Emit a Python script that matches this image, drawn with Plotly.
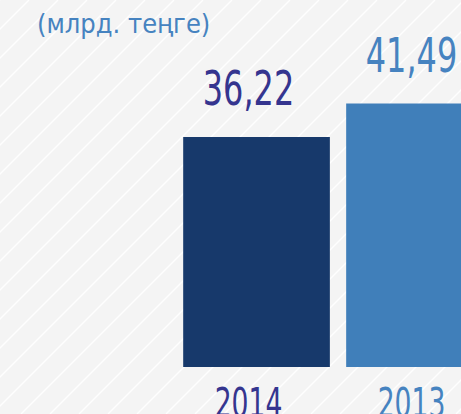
import plotly.graph_objects as go

years = ["2014", "2013"]
values = [36.22, 41.49]
bar_colors = ["#17396b", "#407fba"]
text_colors = ["#35358f", "#4683c0"]
title_text = "(млрд. теңге)"

W, H = 461, 414
B = 47
PH = H - B
FONT = "DejaVu Sans Condensed, Liberation Sans Narrow, Roboto, sans-serif"

fig = go.Figure()
fig.add_trace(go.Bar(
    x=years, y=values, marker=dict(color=bar_colors, line=dict(width=0)),
    width=0.9, hoverinfo="skip",
))
# value labels above bars
fig.add_trace(go.Scatter(
    x=years, y=values, mode="markers+text",
    marker=dict(size=30, opacity=0),
    text=[f"{v:.2f}".replace(".", ",") for v in values],
    textposition="top center",
    textfont=dict(family=FONT, size=48, color=text_colors),
    cliponaxis=False, hoverinfo="skip",
))
# category labels under bars
fig.add_trace(go.Scatter(
    x=years, y=[0] * len(years), mode="markers+text",
    marker=dict(size=30, opacity=0),
    text=years,
    textposition="bottom center",
    textfont=dict(family=FONT, size=40, color=text_colors),
    cliponaxis=False, hoverinfo="skip",
))

# diagonal background stripes (decoration)
shapes = []
step = 29
c = -H
while c < W + H:
    x0, y0 = c, H
    x1, y1 = c + H, 0
    shapes.append(dict(
        type="line", xref="paper", yref="paper", layer="below",
        x0=x0 / W, y0=(PH - y0) / PH, x1=x1 / W, y1=(PH - y1) / PH,
        line=dict(color="rgba(255,255,255,0.85)", width=1.5),
    ))
    c += step

fig.update_layout(
    width=W, height=H,
    margin=dict(l=0, r=0, t=0, b=B),
    paper_bgcolor="#f4f4f4", plot_bgcolor="rgba(0,0,0,0)",
    shapes=shapes,
    showlegend=False,
    title=dict(
        text=title_text, x=37 / W, xanchor="left", xref="container",
        y=1 - 14 / H, yanchor="top", yref="container",
        font=dict(family=FONT, size=27, color="#4683c0"),
    ),
    xaxis=dict(
        type="category", range=[-1.574, 1.2546], showgrid=False, zeroline=False,
        showline=False, ticks="", showticklabels=False, fixedrange=True,
        automargin=False,
    ),
    yaxis=dict(range=[0, 57.8], visible=True, showticklabels=False, showgrid=False,
               zeroline=False, showline=False, ticks="", fixedrange=True,
               automargin=False),
    font=dict(family=FONT),
)

post = """
document.body.style.margin='0';
document.body.style.overflow='hidden';
function squeeze(){
  document.querySelectorAll('.textpoint text').forEach(function(t){
    t.style.transformBox='fill-box';
    t.style.transformOrigin='center';
    t.style.transform='translateX(-8px) scaleX(0.74)';
  });
}
squeeze();
var gd = document.getElementById('{plot_id}');
if (gd && gd.on) { gd.on('plotly_afterplot', squeeze); }
"""

fig.write_html("out.html", config={"displayModeBar": False}, post_script=post)
